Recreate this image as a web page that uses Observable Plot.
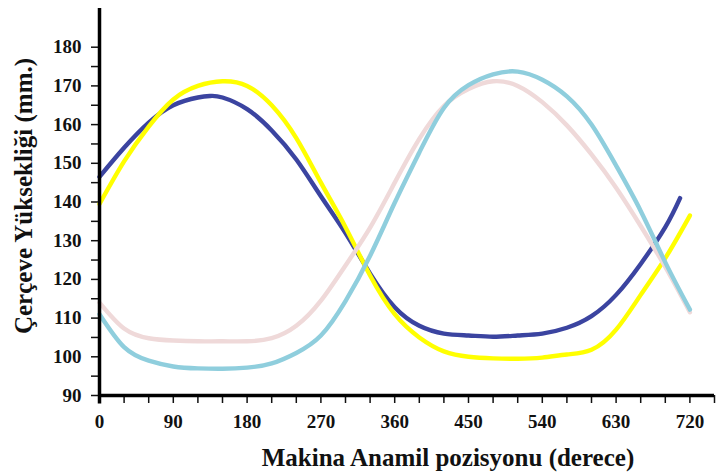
<!DOCTYPE html>
<html>
<head>
<meta charset="utf-8">
<script src="https://cdn.jsdelivr.net/npm/d3@7"></script>
<script src="https://cdn.jsdelivr.net/npm/@observablehq/plot@0.6"></script>
<style>
  html, body { margin: 0; padding: 0; background: white; }
  svg text { font-family: "Liberation Serif", serif !important; }
</style>
</head>
<body>
<div id="chart"></div>
<script>
// Degrees (crank position)
const degrees = [0,30,60,90,120,150,180,210,240,270,300,330,360,390,420,450,480,510,540,570,600,630,660,690,720];
const blueDeg = [0,30,60,90,120,135,150,180,210,240,270,300,330,360,390,420,450,480,510,540,570,600,630,660,690,708];

// Series values (mm)
const blueVals   = [146.5,154,160.5,165,167,167.4,167,164,158.5,151,141.5,132,121.5,112.8,108,106,105.5,105.2,105.5,106,107.5,110.5,116,124,133.5,141];
const yellowVals = [139.5,150.5,159.5,166.5,170,171.2,170,165,156.5,145,133.5,121,111,105,101.4,100,99.6,99.5,99.8,100.6,101.8,107,116,125.5,136.5];
const pinkVals   = [114,107.3,104.8,104.2,104,104,104,104.8,108,114.5,123.6,133.4,145,156.3,164.8,169.2,171.2,170,165.8,159.8,152.3,143.7,133.8,123.2,111.5];
const lblueVals  = [111,102.5,99,97.5,97,96.9,97.2,98.3,101,105.5,114.4,126.1,139.8,152.8,164.3,170.2,173,173.7,171.6,167.3,160,149.4,137.7,124.4,112.2];

const xTicks = d3.range(0, 751, 30);
const xLabels = [0,90,180,270,360,450,540,630,720];
const yTicks = d3.range(90, 181, 5);
const yLabels = [90,100,110,120,130,140,150,160,170,180];

const xTitle = "Makina Anamil pozisyonu (derece)";
const yTitle = "Çerçeve Yüksekliği (mm.)";

const series = [
  {name: "A", xs: blueDeg, ys: blueVals, color: "#3b44a0"},
  {name: "B", xs: degrees, ys: yellowVals, color: "#ffff00"},
  {name: "C", xs: degrees, ys: pinkVals, color: "#efd9d9"},
  {name: "D", xs: degrees, ys: lblueVals, color: "#8fcedd"}
];
const rows = series.flatMap(s => s.xs.map((x, i) => ({series: s.name, x, y: s.ys[i], color: s.color})));

const font = "Liberation Serif";

const chart = Plot.plot({
  width: 716,
  height: 473,
  marginLeft: 99,
  marginRight: 2,
  marginTop: 8,
  marginBottom: 78,
  style: {fontFamily: font, fontSize: "19px", fontWeight: "bold", color: "#111", background: "white"},
  x: {domain: [0, 750]},
  y: {domain: [90, 190]},
  marks: [
    Plot.axisX({ticks: xTicks, tickFormat: () => "", tickSize: 8, strokeWidth: 1.5, label: null}),
    Plot.axisX({ticks: xLabels, tickSize: 0, tickPadding: 19, label: null, fontFamily: font, fontWeight: "bold", fontSize: 19}),
    Plot.axisY({ticks: yTicks, tickFormat: () => "", tickSize: 8, strokeWidth: 1.5, label: null}),
    Plot.axisY({ticks: yLabels, tickSize: 0, tickPadding: 18, label: null, fontFamily: font, fontWeight: "bold", fontSize: 19}),
    Plot.line(rows, {x: "x", y: "y", z: "series", stroke: "color", strokeWidth: 4.4, curve: "natural"}),
    Plot.ruleY([90], {stroke: "black", strokeWidth: 3.5}),
    Plot.ruleX([0], {y1: 87.8, y2: 190, stroke: "black", strokeWidth: 3.5}),
    Plot.text([xTitle], {frameAnchor: "bottom", textAnchor: "middle", lineAnchor: "middle", dx: 41, dy: 62, fontFamily: font, fontSize: 25, fontWeight: "bold", fill: "#111"}),
    Plot.text([yTitle], {frameAnchor: "left", textAnchor: "middle", lineAnchor: "middle", rotate: -90, dx: -76, dy: -6, fontFamily: font, fontSize: 25, fontWeight: "bold", fill: "#111"})
  ]
});
document.getElementById("chart").appendChild(chart);
</script>
</body>
</html>
